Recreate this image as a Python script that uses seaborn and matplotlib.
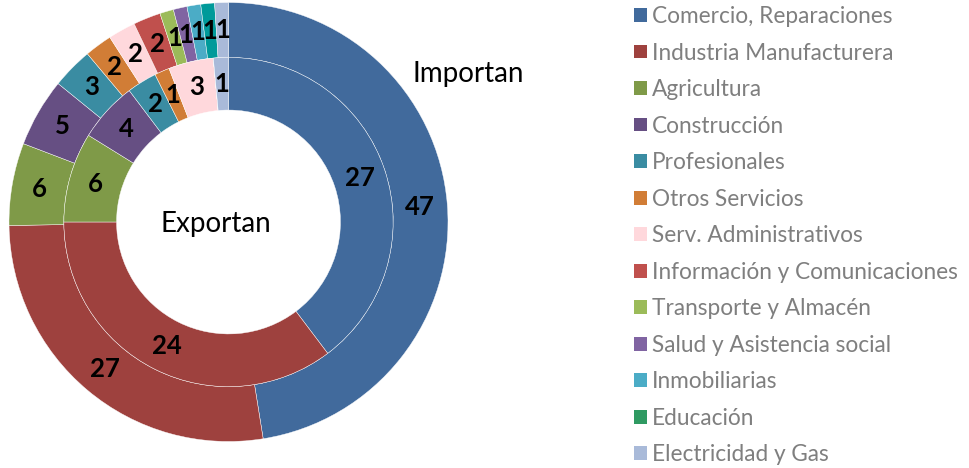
import matplotlib
matplotlib.use("Agg")
import matplotlib.pyplot as plt
from matplotlib.patches import Patch
import seaborn as sns

categories = ["Comercio, Reparaciones", "Industria Manufacturera", "Agricultura",
              "Construcción", "Profesionales", "Otros Servicios",
              "Serv. Administrativos", "Información y Comunicaciones",
              "Transporte y Almacén", "Salud y Asistencia social",
              "Inmobiliarias", "Educación", "Electricidad y Gas"]
importan = [47, 27, 6, 5, 3, 2, 2, 2, 1, 1, 1, 1, 1]
exportan = [27, 24, 6, 4, 2, 1, 3, 0, 0, 0, 0, 0, 1]

slice_colors = ["#416A9C", "#9E413E", "#7F9A48", "#664F83", "#3A8CA2", "#D17D36",
                "#FFD8DC", "#C0504D", "#9BBB59", "#8064A2", "#4BACC6", "#009A9A",
                "#A9BAD9"]
legend_colors = list(slice_colors)
legend_colors[11] = "#2F9A62"

sns.set_theme(style="white")
plt.rcParams["font.family"] = ["Lato", "DejaVu Sans"]
palette = sns.color_palette(slice_colors)

W, H = 969, 468
fig = plt.figure(figsize=(W / 100, H / 100), dpi=100)
cx, cy, R = 228.5, 222.0, 219.5
ax = fig.add_axes([(cx - R) / W, (H - cy - R) / H, 2 * R / W, 2 * R / H])
ax.axis("off")

r_mid = 0.75
r_hole = 0.51
wedge_kw = dict(edgecolor="white", linewidth=0.3)

def fmt_factory(vals):
    it = iter(vals)
    def f(p):
        v = next(it)
        return "" if v == 0 else f"{v}"
    return f

txt_kw = dict(fontsize=18.5, fontweight="bold", color="black")
ax.pie(importan, radius=1.0, colors=palette, startangle=90, counterclock=False,
       wedgeprops=dict(width=1.0 - r_mid, **wedge_kw),
       autopct=fmt_factory(importan), pctdistance=(1.0 + r_mid) / 2,
       textprops=txt_kw)
ax.pie(exportan, radius=r_mid, colors=palette, startangle=90, counterclock=False,
       wedgeprops=dict(width=r_mid - r_hole, **wedge_kw),
       autopct=fmt_factory(exportan), pctdistance=(r_mid + r_hole) / 2 / r_mid,
       textprops=txt_kw)
ax.set_xlim(-1, 1)
ax.set_ylim(-1, 1)
ax.set_aspect("equal")

fig.text(468.7 / W, (H - 81.7) / H, "Importan", ha="center", va="baseline",
         fontsize=20, color="black")
fig.text(216 / W, (H - 231.7) / H, "Exportan", ha="center", va="baseline",
         fontsize=20, color="black")

handles = [Patch(facecolor=c, edgecolor="none") for c in legend_colors]
fig.legend(handles, categories, loc="upper left",
           bbox_to_anchor=(634 / W, (H - 6) / H), frameon=False,
           fontsize=16.3, labelcolor="#7F7F7F", handlelength=0.57, handleheight=0.57,
           handletextpad=0.22, labelspacing=0.685, borderpad=0, borderaxespad=0)

fig.savefig("out.png", dpi=100)
